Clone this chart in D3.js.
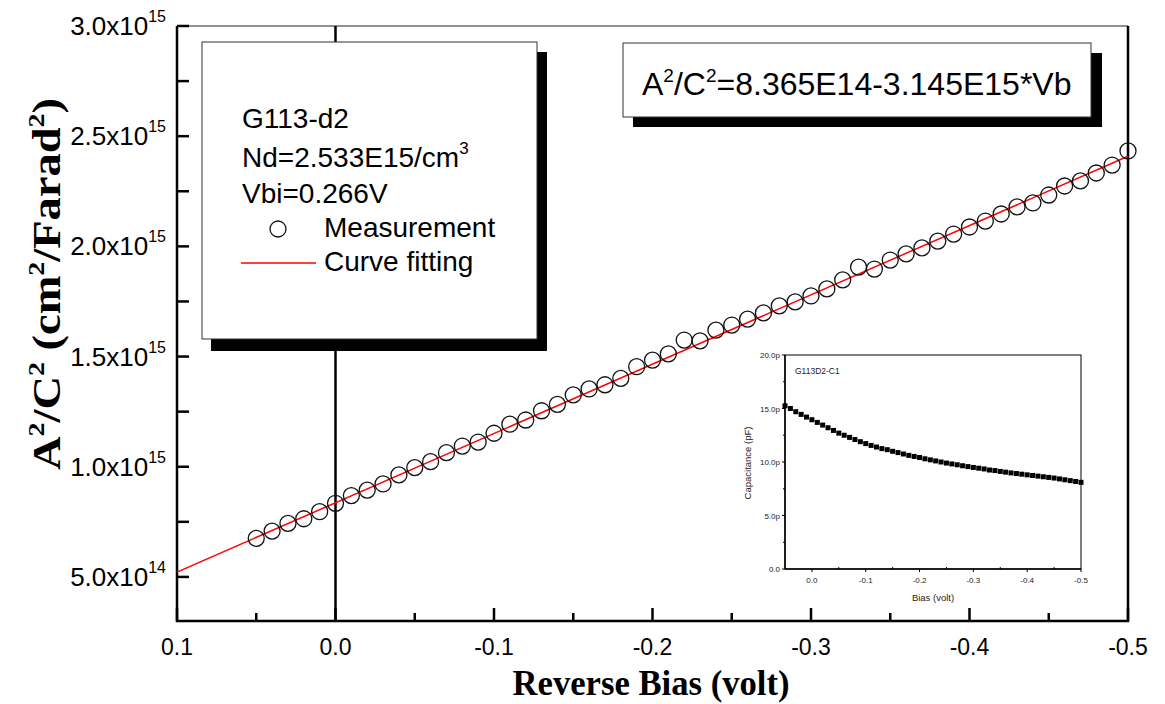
<!DOCTYPE html>
<html lang="en">
<head>
<meta charset="utf-8">
<script src="https://d3js.org/d3.v7.min.js"></script>
<style type="text/css">

body {
	margin: 0;
	background-color: #ffffff;
}

svg text {
	font-family: "Liberation Sans", Arial, sans-serif;
	fill: #000;
}

/* axis titles are bold Times in the original */
.title {
	font-family: "Liberation Serif", "Times New Roman", serif;
	font-weight: bold;
}

</style>
</head>
<body>
<script type="text/javascript">

var width = 1165;
var height = 704;

// reverse bias of each measured point (volt)
var bias = [0.05, 0.04, 0.03, 0.02, 0.01, 0.00, -0.01, -0.02, -0.03, -0.04,
	-0.05, -0.06, -0.07, -0.08, -0.09, -0.10, -0.11, -0.12, -0.13, -0.14,
	-0.15, -0.16, -0.17, -0.18, -0.19, -0.20, -0.21, -0.22, -0.23, -0.24,
	-0.25, -0.26, -0.27, -0.28, -0.29, -0.30, -0.31, -0.32, -0.33, -0.34,
	-0.35, -0.36, -0.37, -0.38, -0.39, -0.40, -0.41, -0.42, -0.43, -0.44,
	-0.45, -0.46, -0.47, -0.48, -0.49, -0.50];

// A^2/C^2 (cm^2/F^2)
var measured = [6.75e14, 7.08e14, 7.43e14, 7.64e14, 7.96e14, 8.34e14, 8.69e14, 8.94e14, 9.22e14, 9.63e14,
	9.96e14, 1.023e15, 1.064e15, 1.094e15, 1.112e15, 1.152e15, 1.193e15, 1.212e15, 1.254e15, 1.283e15,
	1.326e15, 1.353e15, 1.372e15, 1.401e15, 1.454e15, 1.484e15, 1.512e15, 1.575e15, 1.571e15, 1.620e15,
	1.643e15, 1.670e15, 1.698e15, 1.730e15, 1.748e15, 1.775e15, 1.807e15, 1.848e15, 1.906e15, 1.897e15,
	1.938e15, 1.966e15, 1.993e15, 2.024e15, 2.056e15, 2.088e15, 2.115e15, 2.147e15, 2.179e15, 2.197e15,
	2.233e15, 2.274e15, 2.297e15, 2.333e15, 2.369e15, 2.433e15];

// fitted straight line: A^2/C^2 = 8.365E14 - 3.145E15*Vb
var fitBias = [0.1, -0.5];
var fitValues = [5.22e14, 2.409e15];

// main axes ticks
var xTicks = [0.1, 0.0, -0.1, -0.2, -0.3, -0.4, -0.5];
var xTickLabels = ["0.1", "0.0", "-0.1", "-0.2", "-0.3", "-0.4", "-0.5"];
var xMinorTicks = [0.05, -0.05, -0.15, -0.25, -0.35, -0.45];
var yTicks = [5e14, 1e15, 1.5e15, 2e15, 2.5e15, 3e15];
var yTickMantissa = ["5.0x10", "1.0x10", "1.5x10", "2.0x10", "2.5x10", "3.0x10"];
var yTickExponent = ["14", "15", "15", "15", "15", "15"];
var yMinorTicks = [7.5e14, 1.25e15, 1.75e15, 2.25e15, 2.75e15];

// legend text
var sampleName = "G113-d2";
var dopingText = "Nd=2.533E15/cm";
var vbiText = "Vbi=0.266V";
var seriesNames = ["Measurement", "Curve fitting"];

// inset: capacitance vs bias
var insetBias = bias;
var insetCap = [15.25, 15.0, 14.7, 14.45, 14.2, 13.95, 13.7, 13.45, 13.2, 12.95,
	12.7, 12.5, 12.3, 12.1, 11.9, 11.72, 11.55, 11.4, 11.25, 11.15,
	11.0, 10.88, 10.75, 10.62, 10.52, 10.42, 10.3, 10.2, 10.1, 10.0,
	9.9, 9.82, 9.74, 9.65, 9.57, 9.49, 9.42, 9.35, 9.25, 9.2,
	9.12, 9.05, 8.98, 8.92, 8.86, 8.8, 8.74, 8.68, 8.62, 8.56,
	8.5, 8.42, 8.34, 8.26, 8.18, 8.1];
var insetXTicks = [0.0, -0.1, -0.2, -0.3, -0.4, -0.5];
var insetXTickLabels = ["0.0", "-0.1", "-0.2", "-0.3", "-0.4", "-0.5"];
var insetXMinor = [-0.05, -0.15, -0.25, -0.35, -0.45];
var insetYTicks = [0, 5, 10, 15, 20];
var insetYTickLabels = ["0.0", "5.0p", "10.0p", "15.0p", "20.0p"];
var insetYMinor = [2.5, 7.5, 12.5, 17.5];

var svg = d3.select("body")
	.append("svg")
	.attr("width", width)
	.attr("height", height);

svg.append("rect").attr("width", width).attr("height", height).attr("fill", "#fff");

// scales of the main plot
var x = d3.scaleLinear().domain([0.1, -0.5]).range([177, 1128]);
var y = d3.scaleLinear().domain([3e14, 3e15]).range([621, 26]);

// frame: thin top, thick left/bottom/right
svg.append("line")
	.attr("x1", x(0.1)).attr("x2", x(-0.5))
	.attr("y1", y(3e15)).attr("y2", y(3e15))
	.attr("stroke", "#222").attr("stroke-width", 1);
svg.append("path")
	.attr("d", "M" + x(0.1) + "," + y(3e15) + "V" + y(3e14) + "H" + x(-0.5) + "V" + y(3e15))
	.attr("fill", "none").attr("stroke", "#000").attr("stroke-width", 2.5);

// y ticks (inward)
svg.selectAll(".ytick")
	.data(yTicks.concat(yMinorTicks))
	.enter().append("line")
	.attr("x1", x(0.1)).attr("x2", x(0.1) + 12)
	.attr("y1", function(d) { return y(d); })
	.attr("y2", function(d) { return y(d); })
	.attr("stroke", "#000").attr("stroke-width", 2.5);

// x ticks (inward)
svg.selectAll(".xtick")
	.data(xTicks)
	.enter().append("line")
	.attr("x1", function(d) { return x(d); })
	.attr("x2", function(d) { return x(d); })
	.attr("y1", y(3e14)).attr("y2", y(3e14) - 13)
	.attr("stroke", "#000").attr("stroke-width", 2.5);
svg.selectAll(".xminor")
	.data(xMinorTicks)
	.enter().append("line")
	.attr("x1", function(d) { return x(d); })
	.attr("x2", function(d) { return x(d); })
	.attr("y1", y(3e14)).attr("y2", y(3e14) - 8)
	.attr("stroke", "#000").attr("stroke-width", 2.5);

// x tick labels
svg.selectAll(".xlab")
	.data(xTicks)
	.enter().append("text")
	.attr("x", function(d) { return x(d); })
	.attr("y", 655)
	.attr("text-anchor", "middle")
	.style("font-size", "23px")
	.text(function(d, i) { return xTickLabels[i]; });

// y tick labels with superscript exponent
var ylab = svg.selectAll(".ylab")
	.data(yTicks)
	.enter().append("text")
	.attr("x", 166)
	.attr("y", function(d) { return y(d) + 9; })
	.attr("text-anchor", "end")
	.style("font-size", "26px");
ylab.append("tspan").text(function(d, i) { return yTickMantissa[i]; });
ylab.append("tspan")
	.attr("dy", -13)
	.style("font-size", "16px")
	.text(function(d, i) { return yTickExponent[i]; });

// vertical line at zero bias
svg.append("line")
	.attr("x1", x(0)).attr("x2", x(0))
	.attr("y1", y(3e15)).attr("y2", y(3e14))
	.attr("stroke", "#000").attr("stroke-width", 2.5);

// fitted line
svg.append("line")
	.attr("x1", x(fitBias[0])).attr("y1", y(fitValues[0]))
	.attr("x2", x(fitBias[1])).attr("y2", y(fitValues[1]))
	.attr("stroke", "#ff0000").attr("stroke-width", 1.5);

// measurement circles
svg.selectAll(".pt")
	.data(measured)
	.enter().append("circle")
	.attr("cx", function(d, i) { return x(bias[i]); })
	.attr("cy", function(d) { return y(d); })
	.attr("r", 8)
	.attr("fill", "none")
	.attr("stroke", "#111")
	.attr("stroke-width", 1.3);

// axis titles
svg.append("text")
	.attr("class", "title")
	.attr("x", 651).attr("y", 695)
	.attr("text-anchor", "middle")
	.attr("textLength", 277)
	.attr("lengthAdjust", "spacingAndGlyphs")
	.style("font-size", "36px")
	.text("Reverse Bias (volt)");

var yTitle = svg.append("text")
	.attr("class", "title")
	.attr("transform", "translate(60,284) rotate(-90)")
	.attr("text-anchor", "middle")
	.attr("textLength", 372)
	.attr("lengthAdjust", "spacingAndGlyphs")
	.style("font-size", "40px");
var yParts = [["A", 0], ["2", 1], ["/C", 0], ["2", 1], [" (cm", 0], ["2", 1], ["/Farad", 0], ["2", 1], [")", 0]];
yParts.forEach(function(p, i) {
	var prev = i > 0 ? yParts[i - 1][1] : 0;
	yTitle.append("tspan")
		.attr("dy", p[1] && !prev ? -16 : (!p[1] && prev ? 16 : 0))
		.style("font-size", p[1] ? "24px" : "40px")
		.text(p[0]);
});

// legend box with drop shadow
svg.append("rect").attr("x", 211).attr("y", 52).attr("width", 336).attr("height", 299).attr("fill", "#000");
svg.append("rect").attr("x", 202).attr("y", 42).attr("width", 335).attr("height", 297)
	.attr("fill", "#fff").attr("stroke", "#333").attr("stroke-width", 1);

svg.append("text").attr("x", 242).attr("y", 128).style("font-size", "28px").text(sampleName);
var nd = svg.append("text").attr("x", 242).attr("y", 167).style("font-size", "28px");
nd.append("tspan").text(dopingText);
nd.append("tspan").attr("dy", -13).style("font-size", "17px").text("3");
svg.append("text").attr("x", 242).attr("y", 203).style("font-size", "28px").text(vbiText);

svg.append("circle").attr("cx", 278).attr("cy", 229).attr("r", 8)
	.attr("fill", "none").attr("stroke", "#111").attr("stroke-width", 1.3);
svg.append("text").attr("x", 324).attr("y", 237).style("font-size", "28px").text(seriesNames[0]);
svg.append("line").attr("x1", 241).attr("x2", 316).attr("y1", 263).attr("y2", 263)
	.attr("stroke", "#ff0000").attr("stroke-width", 1.3);
svg.append("text").attr("x", 324).attr("y", 271).style("font-size", "28px").text(seriesNames[1]);

// equation box with drop shadow
svg.append("rect").attr("x", 633).attr("y", 53).attr("width", 469).attr("height", 74).attr("fill", "#000");
svg.append("rect").attr("x", 623).attr("y", 43).attr("width", 468).attr("height", 74)
	.attr("fill", "#fff").attr("stroke", "#333").attr("stroke-width", 1);
var eq = svg.append("text").attr("x", 642).attr("y", 95).style("font-size", "32px");
eq.append("tspan").text("A");
eq.append("tspan").attr("dy", -13).style("font-size", "19px").text("2");
eq.append("tspan").attr("dy", 13).text("/C");
eq.append("tspan").attr("dy", -13).style("font-size", "19px").text("2");
eq.append("tspan").attr("dy", 13).text("=8.365E14-3.145E15*Vb");

// ---- inset: C-V curve ----
var ix = d3.scaleLinear().domain([0.05, -0.5]).range([785, 1081]);
var iy = d3.scaleLinear().domain([0, 20]).range([569, 355]);

var inset = svg.append("g");
inset.append("rect")
	.attr("x", ix(0.05)).attr("y", iy(20))
	.attr("width", ix(-0.5) - ix(0.05)).attr("height", iy(0) - iy(20))
	.attr("fill", "#fff").attr("stroke", "#000").attr("stroke-width", 1);
inset.append("line")
	.attr("x1", ix(0.05)).attr("x2", ix(0.05)).attr("y1", iy(20)).attr("y2", iy(0))
	.attr("stroke", "#000").attr("stroke-width", 1.5);
inset.append("line")
	.attr("x1", ix(0.05)).attr("x2", ix(-0.5)).attr("y1", iy(0)).attr("y2", iy(0))
	.attr("stroke", "#000").attr("stroke-width", 1.5);

inset.selectAll(".iyt")
	.data(insetYTicks)
	.enter().append("line")
	.attr("x1", ix(0.05) - 3).attr("x2", ix(0.05))
	.attr("y1", function(d) { return iy(d); }).attr("y2", function(d) { return iy(d); })
	.attr("stroke", "#000").attr("stroke-width", 1);
inset.selectAll(".iym")
	.data(insetYMinor)
	.enter().append("line")
	.attr("x1", ix(0.05) - 2).attr("x2", ix(0.05))
	.attr("y1", function(d) { return iy(d); }).attr("y2", function(d) { return iy(d); })
	.attr("stroke", "#000").attr("stroke-width", 1);
inset.selectAll(".ixt")
	.data(insetXTicks)
	.enter().append("line")
	.attr("x1", function(d) { return ix(d); }).attr("x2", function(d) { return ix(d); })
	.attr("y1", iy(0)).attr("y2", iy(0) + 3)
	.attr("stroke", "#000").attr("stroke-width", 1);
inset.selectAll(".ixm")
	.data(insetXMinor)
	.enter().append("line")
	.attr("x1", function(d) { return ix(d); }).attr("x2", function(d) { return ix(d); })
	.attr("y1", iy(0)).attr("y2", iy(0) - 2)
	.attr("stroke", "#000").attr("stroke-width", 1);

inset.selectAll(".ixl")
	.data(insetXTicks)
	.enter().append("text")
	.attr("x", function(d) { return ix(d); })
	.attr("y", 583)
	.attr("text-anchor", "middle")
	.style("font-size", "8px")
	.style("fill", "#222")
	.text(function(d, i) { return insetXTickLabels[i]; });
inset.selectAll(".iyl")
	.data(insetYTicks)
	.enter().append("text")
	.attr("x", 780)
	.attr("y", function(d) { return iy(d) + 3; })
	.attr("text-anchor", "end")
	.style("font-size", "8px")
	.style("fill", "#222")
	.text(function(d, i) { return insetYTickLabels[i]; });

inset.append("text")
	.attr("x", 933).attr("y", 601)
	.attr("text-anchor", "middle")
	.style("font-size", "9.5px")
	.style("fill", "#222")
	.text("Bias (volt)");
inset.append("text")
	.attr("transform", "translate(751,463) rotate(-90)")
	.attr("text-anchor", "middle")
	.style("font-size", "9.5px")
	.style("fill", "#222")
	.text("Capacitance (pF)");
inset.append("text")
	.attr("x", 795).attr("y", 374)
	.style("font-size", "8.5px")
	.style("fill", "#222")
	.text("G113D2-C1");

inset.selectAll(".sq")
	.data(insetCap)
	.enter().append("rect")
	.attr("x", function(d, i) { return ix(insetBias[i]) - 2.5; })
	.attr("y", function(d) { return iy(d) - 2.5; })
	.attr("width", 5).attr("height", 5)
	.attr("fill", "#000");

</script>
</body>
</html>
